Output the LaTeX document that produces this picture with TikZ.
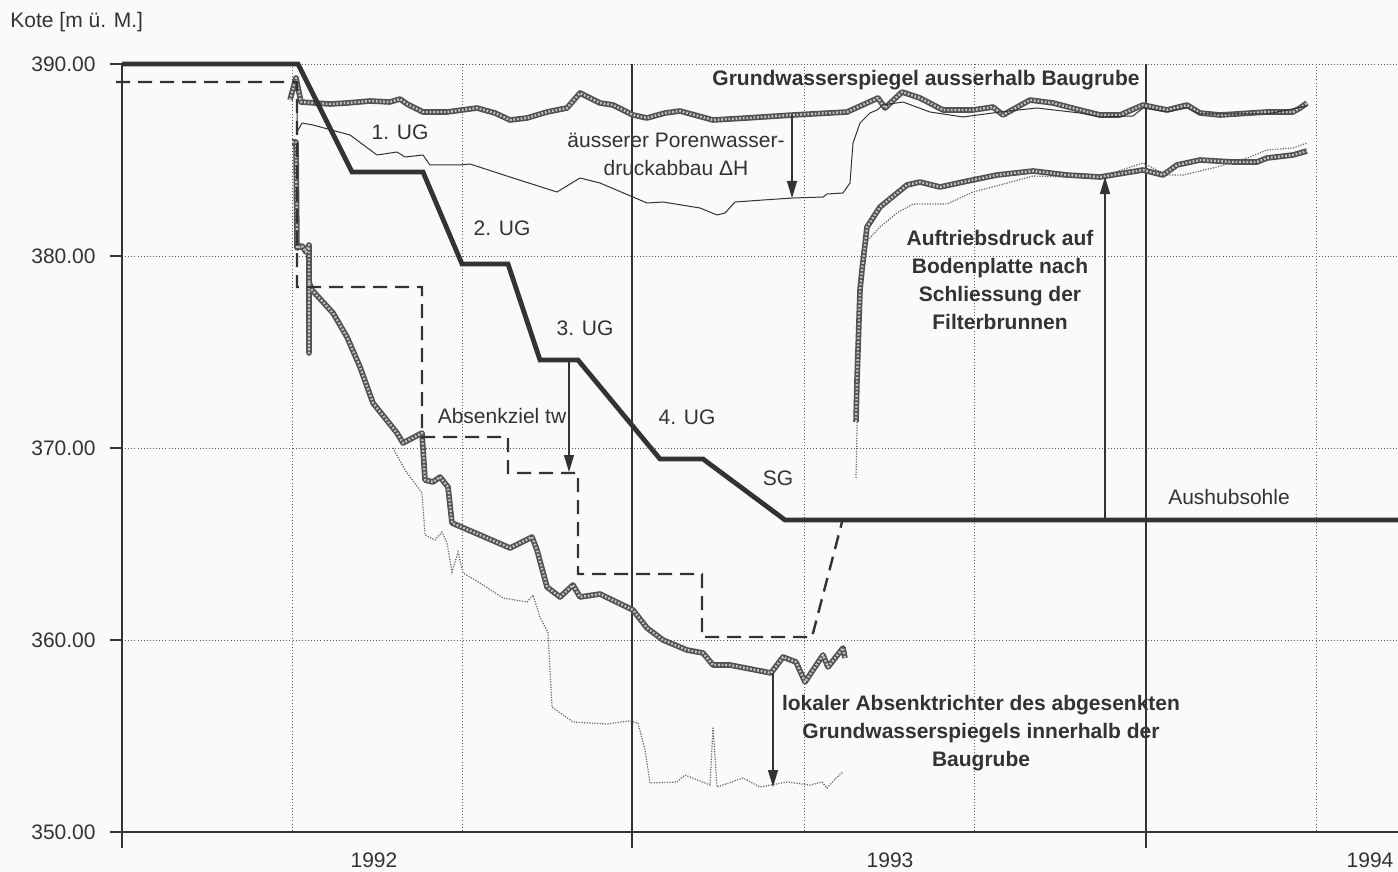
\documentclass[tikz,border=0pt]{standalone}
\usepackage{fontspec}
\setmainfont{Liberation Sans}
\usetikzlibrary{arrows.meta}
\definecolor{ink}{HTML}{333333}
\definecolor{paper}{HTML}{FAFAFA}
\begin{document}
\begin{tikzpicture}[x=0.5pt,y=-0.5pt,
  lbl/.style={font=\fontsize{10.5}{14}\selectfont, text=ink, inner sep=0pt, align=center},
  blbl/.style={lbl, font=\fontsize{10.5}{14}\selectfont\bfseries},
  gridline/.style={draw=ink!80, line width=0.45pt, dash pattern=on 0.45pt off 1.1pt},
  axisline/.style={draw=ink, line width=1pt},
  yearline/.style={draw=ink, line width=0.7pt},
  excav/.style={draw=ink, line width=2.4pt, line join=miter},
  target/.style={draw=ink, line width=1.2pt, dash pattern=on 7pt off 4pt},
  beaded/.style={draw=ink!85, line width=2.8pt, line join=round,
    postaction={draw=ink!30, line width=1.2pt, dash pattern=on 0.9pt off 0.9pt}},
  thinline/.style={draw=ink, line width=0.5pt, line join=round},
  dotline/.style={draw=ink!75, line width=0.6pt, dash pattern=on 0.6pt off 0.7pt},
  arr/.style={draw=ink, line width=0.55pt, -{Triangle[length=8.5pt,width=5pt]}}
]
\fill[paper] (0,0) rectangle (1398,872);
\useasboundingbox (0,0) rectangle (1398,872);

% grid
\foreach \yy in {64,256,448,640} \draw[gridline] (122,\yy) -- (1398,\yy);
\foreach \xx in {292,462,804,974,1316} \draw[gridline] (\xx,64) -- (\xx,832);
\draw[yearline] (632,64) -- (632,848);
\draw[yearline] (1146,64) -- (1146,848);

% axes
\draw[axisline] (122,64) -- (122,848);
\draw[axisline] (110,832) -- (1398,832);
\foreach \yy in {64,256,448,640} \draw[axisline] (110,\yy) -- (122,\yy);

% axis labels
\node[lbl, anchor=base west] (ytitle) at (10,28) {Kote [m ü. M.]};
\node[lbl, anchor=east] (y390) at (96,64) {390.00};
\node[lbl, anchor=east] (y380) at (96,256) {380.00};
\node[lbl, anchor=east] (y370) at (96,448) {370.00};
\node[lbl, anchor=east] (y360) at (96,640) {360.00};
\node[lbl, anchor=east] (y350) at (96,832) {350.00};
\node[lbl] (x1992) at (374,860) {1992};
\node[lbl] (x1993) at (890,860) {1993};
\node[lbl] (x1994) at (1370,860) {1994};

% outer groundwater level (beaded)
\draw[beaded] (290,100) -- (296,78) -- (301,102) -- (330,104) -- (347,103) -- (370,101) -- (390,102) -- (400,99) -- (407,104) -- (423,112) -- (447,112) -- (477,108) -- (495,113) -- (510,120) -- (527,118) -- (547,112) -- (567,108) -- (580,93) -- (600,103) -- (613,105) -- (633,115) -- (647,118) -- (665,113) -- (680,111) -- (713,120) -- (747,118) -- (793,115) -- (847,112) -- (867,103) -- (878,98) -- (885,108) -- (902,92) -- (920,98) -- (943,110) -- (973,110) -- (993,107) -- (1003,115) -- (1030,100) -- (1053,103) -- (1080,110) -- (1100,115) -- (1120,115) -- (1143,105) -- (1167,110) -- (1187,105) -- (1200,113) -- (1220,115) -- (1267,112) -- (1293,112) -- (1300,108) -- (1307,103);

% outer pore water pressure (thin)
\draw[thinline] (297,113) -- (297,132) -- (302,123) -- (313,125) -- (350,135) -- (377,155) -- (397,152) -- (405,157) -- (423,155) -- (430,165) -- (460,165) -- (470,164) -- (513,178) -- (557,192) -- (580,178) -- (600,183) -- (647,203) -- (663,202) -- (700,208) -- (717,215) -- (725,213) -- (735,202) -- (763,200) -- (793,198) -- (823,197) -- (827,194) -- (843,193) -- (850,183) -- (853,143) -- (860,123) -- (870,113) -- (877,110) -- (883,105) -- (903,102) -- (930,112) -- (963,117) -- (1000,112) -- (1037,108) -- (1080,113) -- (1100,117) -- (1133,116) -- (1143,108) -- (1167,112) -- (1187,108) -- (1200,114) -- (1267,114) -- (1307,106);

% inner lowered level (beaded)
\draw[beaded] (292,142) -- (296,142) -- (297,248) -- (302,246) -- (306,252) -- (309,245) -- (309,353) -- (309,282) -- (312,290) -- (333,313) -- (347,337) -- (360,367) -- (373,403) -- (397,433) -- (403,443) -- (422,433) -- (425,480) -- (433,482) -- (440,477) -- (448,487) -- (452,523) -- (480,535) -- (510,548) -- (532,537) -- (537,550) -- (547,587) -- (560,597) -- (573,585) -- (580,597) -- (600,594) -- (633,610) -- (647,628) -- (663,640) -- (687,650) -- (703,653) -- (713,665) -- (730,665) -- (771,673) -- (783,657) -- (796,662) -- (805,682) -- (813,670) -- (823,655) -- (828,667) -- (843,648) -- (845,658);

% inner local drawdown (dotted)
\draw[dotline] (393,448) -- (405,470) -- (422,493) -- (425,535) -- (435,540) -- (442,532) -- (447,543) -- (452,572) -- (458,552) -- (463,573) -- (480,583) -- (503,598) -- (527,602) -- (533,595) -- (540,617) -- (548,633) -- (552,707) -- (573,722) -- (607,724) -- (629,721) -- (638,723) -- (645,750) -- (650,783) -- (677,782) -- (685,775) -- (710,785) -- (713,727) -- (717,787) -- (743,778) -- (760,787) -- (787,782) -- (810,785) -- (822,782) -- (827,788) -- (837,777) -- (843,772);

% recovery after closing wells
\draw[dotline] (856,478) -- (857,430) -- (858,300) -- (862,250) -- (868,240) -- (880,227) -- (897,213) -- (913,204) -- (947,204) -- (973,192) -- (1000,185) -- (1033,176) -- (1067,177) -- (1100,177) -- (1143,163) -- (1167,175) -- (1183,175) -- (1217,167) -- (1250,157) -- (1267,150) -- (1293,148) -- (1307,143);
\draw[beaded] (856,422) -- (857,380) -- (860,290) -- (862,270) -- (867,227) -- (880,207) -- (907,185) -- (920,182) -- (940,187) -- (963,182) -- (997,175) -- (1033,171) -- (1067,175) -- (1100,177) -- (1143,170) -- (1163,175) -- (1177,165) -- (1200,160) -- (1233,162) -- (1257,162) -- (1267,158) -- (1293,155) -- (1307,151);

% target drawdown (dashed)
\draw[target] (116,82) -- (297,82) -- (297,287) -- (422,287) -- (422,437) -- (508,437) -- (508,473) -- (578,473) -- (578,574) -- (702,574) -- (702,637) -- (812,637) -- (842,522);

% excavation
\draw[excav] (122,64) -- (298,64) -- (352,172) -- (423,172) -- (462,264) -- (508,264) -- (540,360) -- (578,360) -- (660,459) -- (703,459) -- (785,520) -- (1398,520);

% arrows
\coordinate (dhTop) at (792,115);
\coordinate (dhBot) at (792,198);
\draw[arr] (dhTop) -- (dhBot);
\coordinate (twTop) at (569,361);
\coordinate (twBot) at (569,472);
\draw[arr] (twTop) -- (twBot);
\coordinate (lokTop) at (773,673);
\coordinate (lokBot) at (773,787);
\draw[arr] (lokTop) -- (lokBot);
\coordinate (aufBot) at (1105,519);
\coordinate (aufTop) at (1105,177);
\draw[arr] (aufBot) -- (aufTop);

% labels
\node[lbl] (ug1) at (400,132) {1. UG};
\node[lbl] (ug2) at (502,228) {2. UG};
\node[lbl] (ug3) at (585,328) {3. UG};
\node[lbl] (ug4) at (687,417) {4. UG};
\node[lbl] (sg) at (778,478) {SG};
\node[lbl] (ziel) at (502,416) {Absenkziel tw};
\node[lbl] (dh) at (676,154) {äusserer Porenwasser-\\druckabbau ΔH};
\node[blbl] (gwout) at (926,80) {Grundwasserspiegel ausserhalb Baugrube};
\node[blbl] (auf) at (1000,280) {Auftriebsdruck auf\\Bodenplatte nach\\Schliessung der\\Filterbrunnen};
\node[lbl] (sohle) at (1229,497) {Aushubsohle};
\node[blbl] (lok) at (981,733) {lokaler Absenktrichter des abgesenkten\\Grundwasserspiegels innerhalb der\\Baugrube};
\end{tikzpicture}
\end{document}
